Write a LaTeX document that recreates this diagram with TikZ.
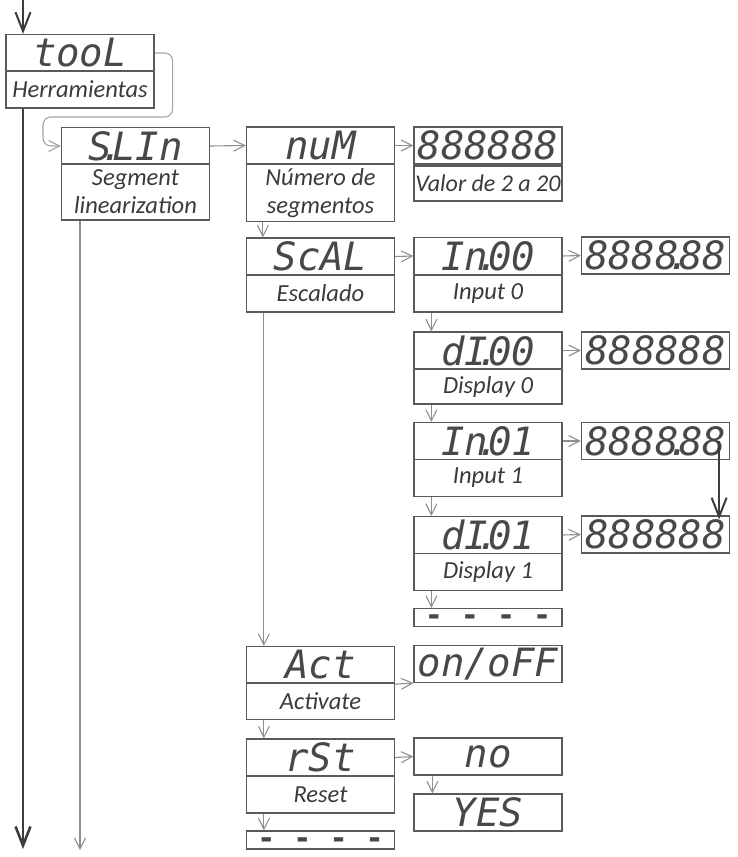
\documentclass[tikz,border=0pt]{standalone}
\usepackage{fontspec}
\setmainfont{Carlito}
\newfontfamily\segfont{DejaVu Sans Mono}
\usetikzlibrary{arrows.meta}

\definecolor{boxgray}{HTML}{5A5A5A}
\definecolor{inkgray}{HTML}{3A3A3A}
\definecolor{seggray}{HTML}{484848}
\definecolor{lightline}{HTML}{8E8E8E}
\definecolor{darkline}{HTML}{3C3C3C}

% decimal point that takes no room of its own
\newcommand\segdot{\kern-.3em.\kern-.3em}

\begin{document}
\begin{tikzpicture}[
    x=1pt, y=-1pt,
    disp/.style={draw=boxgray, line width=1.2pt, minimum width=148pt, minimum height=37pt, inner sep=0pt, text=seggray, font=\segfont\itshape\fontsize{39}{39}\selectfont},
    desc/.style={draw=boxgray, line width=1.2pt, minimum width=148pt, minimum height=37pt, inner sep=0pt, text=inkgray, align=center, font=\itshape\fontsize{24.5}{28}\selectfont},
    dashes/.style={disp, minimum height=18pt, text height=16pt, text depth=0pt, font=\segfont\bfseries\fontsize{30}{30}\selectfont},
    conn/.style={draw=lightline, line width=1.1pt, -{Straight Barb[length=11pt,width=11pt]}},
    flow/.style={draw=darkline, line width=2.6pt, -{Straight Barb[length=19pt,width=15pt]}}
]
\useasboundingbox (0,0) rectangle (737,857);

% tooL
\node[disp] (toolD) at (80, 53) {tooL};
\node[desc] (toolL) at (80, 89.5) {Herramientas};

% S.LIn
\node[disp] (slinD) at (135.5, 146) {S\segdot LIn};
\node[desc, minimum height=56pt] (slinL) at (135.5, 192) {Segment\\linearization};

% third column
\node[disp] (numD) at (320.5, 145.5) {nuM};
\node[desc, minimum height=57pt] (numL) at (320.5, 193) {Número de\\segmentos};

\node[disp] (scalD) at (320.5, 256.5) {ScAL};
\node[desc] (scalL) at (320.5, 293.5) {Escalado};

\node[disp] (actD) at (320.5, 665) {Act};
\node[desc] (actL) at (320.5, 701) {Activate};

\node[disp] (rstD) at (320.5, 757.5) {rSt};
\node[desc] (rstL) at (320.5, 794.5) {Reset};

\node[dashes] (endC) at (320.5, 840) {- - - -};

% fourth column
\node[disp] (numV) at (488, 145.5) {888888};
\node[desc, minimum height=35pt, font=\itshape\fontsize{24}{28}\selectfont] (numR) at (488, 183.5) {Valor de 2 a 20};

\node[disp] (in0D) at (488, 256) {In\segdot 00};
\node[desc] (in0L) at (488, 293.5) {Input 0};

\node[disp] (di0D) at (488, 350.5) {dI\segdot 00};
\node[desc, minimum height=35pt] (di0L) at (488, 386.5) {Display 0};

\node[disp] (in1D) at (488, 441) {In\segdot 01};
\node[desc] (in1L) at (488, 478) {Input 1};

\node[disp] (di1D) at (488, 535) {dI\segdot 01};
\node[desc] (di1L) at (488, 572) {Display 1};

\node[dashes] (endD) at (488, 617.5) {- - - -};

\node[disp] (onoff) at (488, 664) {on/oFF};
\node[disp] (no) at (488, 756.5) {no};
\node[disp] (yes) at (488, 812.5) {YES};

% values
\node[disp] (v0) at (655.5, 255.5) {8888\segdot 88};
\node[disp] (v1) at (655.5, 350.5) {888888};
\node[disp] (v2) at (655.5, 441) {8888\segdot 88};
\node[disp] (v3) at (655.5, 534.5) {888888};

% main flow
\coordinate (entry) at (23, 0);
\coordinate (exit) at (23, 849);
\draw[flow, line width=2pt] (entry) -- (entry |- toolD.north);
\draw[flow] (entry |- toolL.south) -- (exit);

% into the menu
\coordinate (loop) at (43, 117);
\draw[conn, draw=lightline!80, rounded corners=8pt] (toolD.east) -- ++(18, 0) |- (loop) |- (slinD.west);
\coordinate (slinEnd) at (80, 850);
\draw[conn] (slinL.south -| slinEnd) -- (slinEnd);

% to the right
\draw[conn] (slinD.east) -- (numD.west);
\draw[conn] (numD.east) -- (numV.west);
\draw[conn] (scalD.east) -- (in0D.west);
\draw[conn] (in0D.east) -- (v0.west);
\draw[conn] (di0D.east) -- (v1.west);
\draw[conn] (in1D.east) -- (v2.west);
\draw[conn] (di1D.east) -- (v3.west);
\draw[conn] (actD.south east) -- (onoff.south west);
\draw[conn] (rstD.east) -- (no.west);

% downwards
\draw[conn] ([xshift=17pt]numL.south west) -- ([xshift=17pt]scalD.north west);
\draw[conn] ([xshift=18pt]scalL.south west) -- ([xshift=18pt]actD.north west);
\draw[conn] ([xshift=18pt]actL.south west) -- ([xshift=18pt]rstD.north west);
\draw[conn] ([xshift=18pt]rstL.south west) -- ([xshift=18pt]endC.north west);
\draw[conn] ([xshift=18pt]in0L.south west) -- ([xshift=18pt]di0D.north west);
\draw[conn] ([xshift=18pt]di0L.south west) -- ([xshift=18pt]in1D.north west);
\draw[conn] ([xshift=18pt]in1L.south west) -- ([xshift=18pt]di1D.north west);
\draw[conn] ([xshift=18pt]di1L.south west) -- ([xshift=18pt]endD.north west);
\draw[conn] ([xshift=19pt]no.south west) -- ([xshift=19pt]yes.north west);

\draw[flow, line width=2pt] ([xshift=-11pt]v2.east) -- ([xshift=-11pt, yshift=-4pt]v3.north east);

\end{tikzpicture}
\end{document}
